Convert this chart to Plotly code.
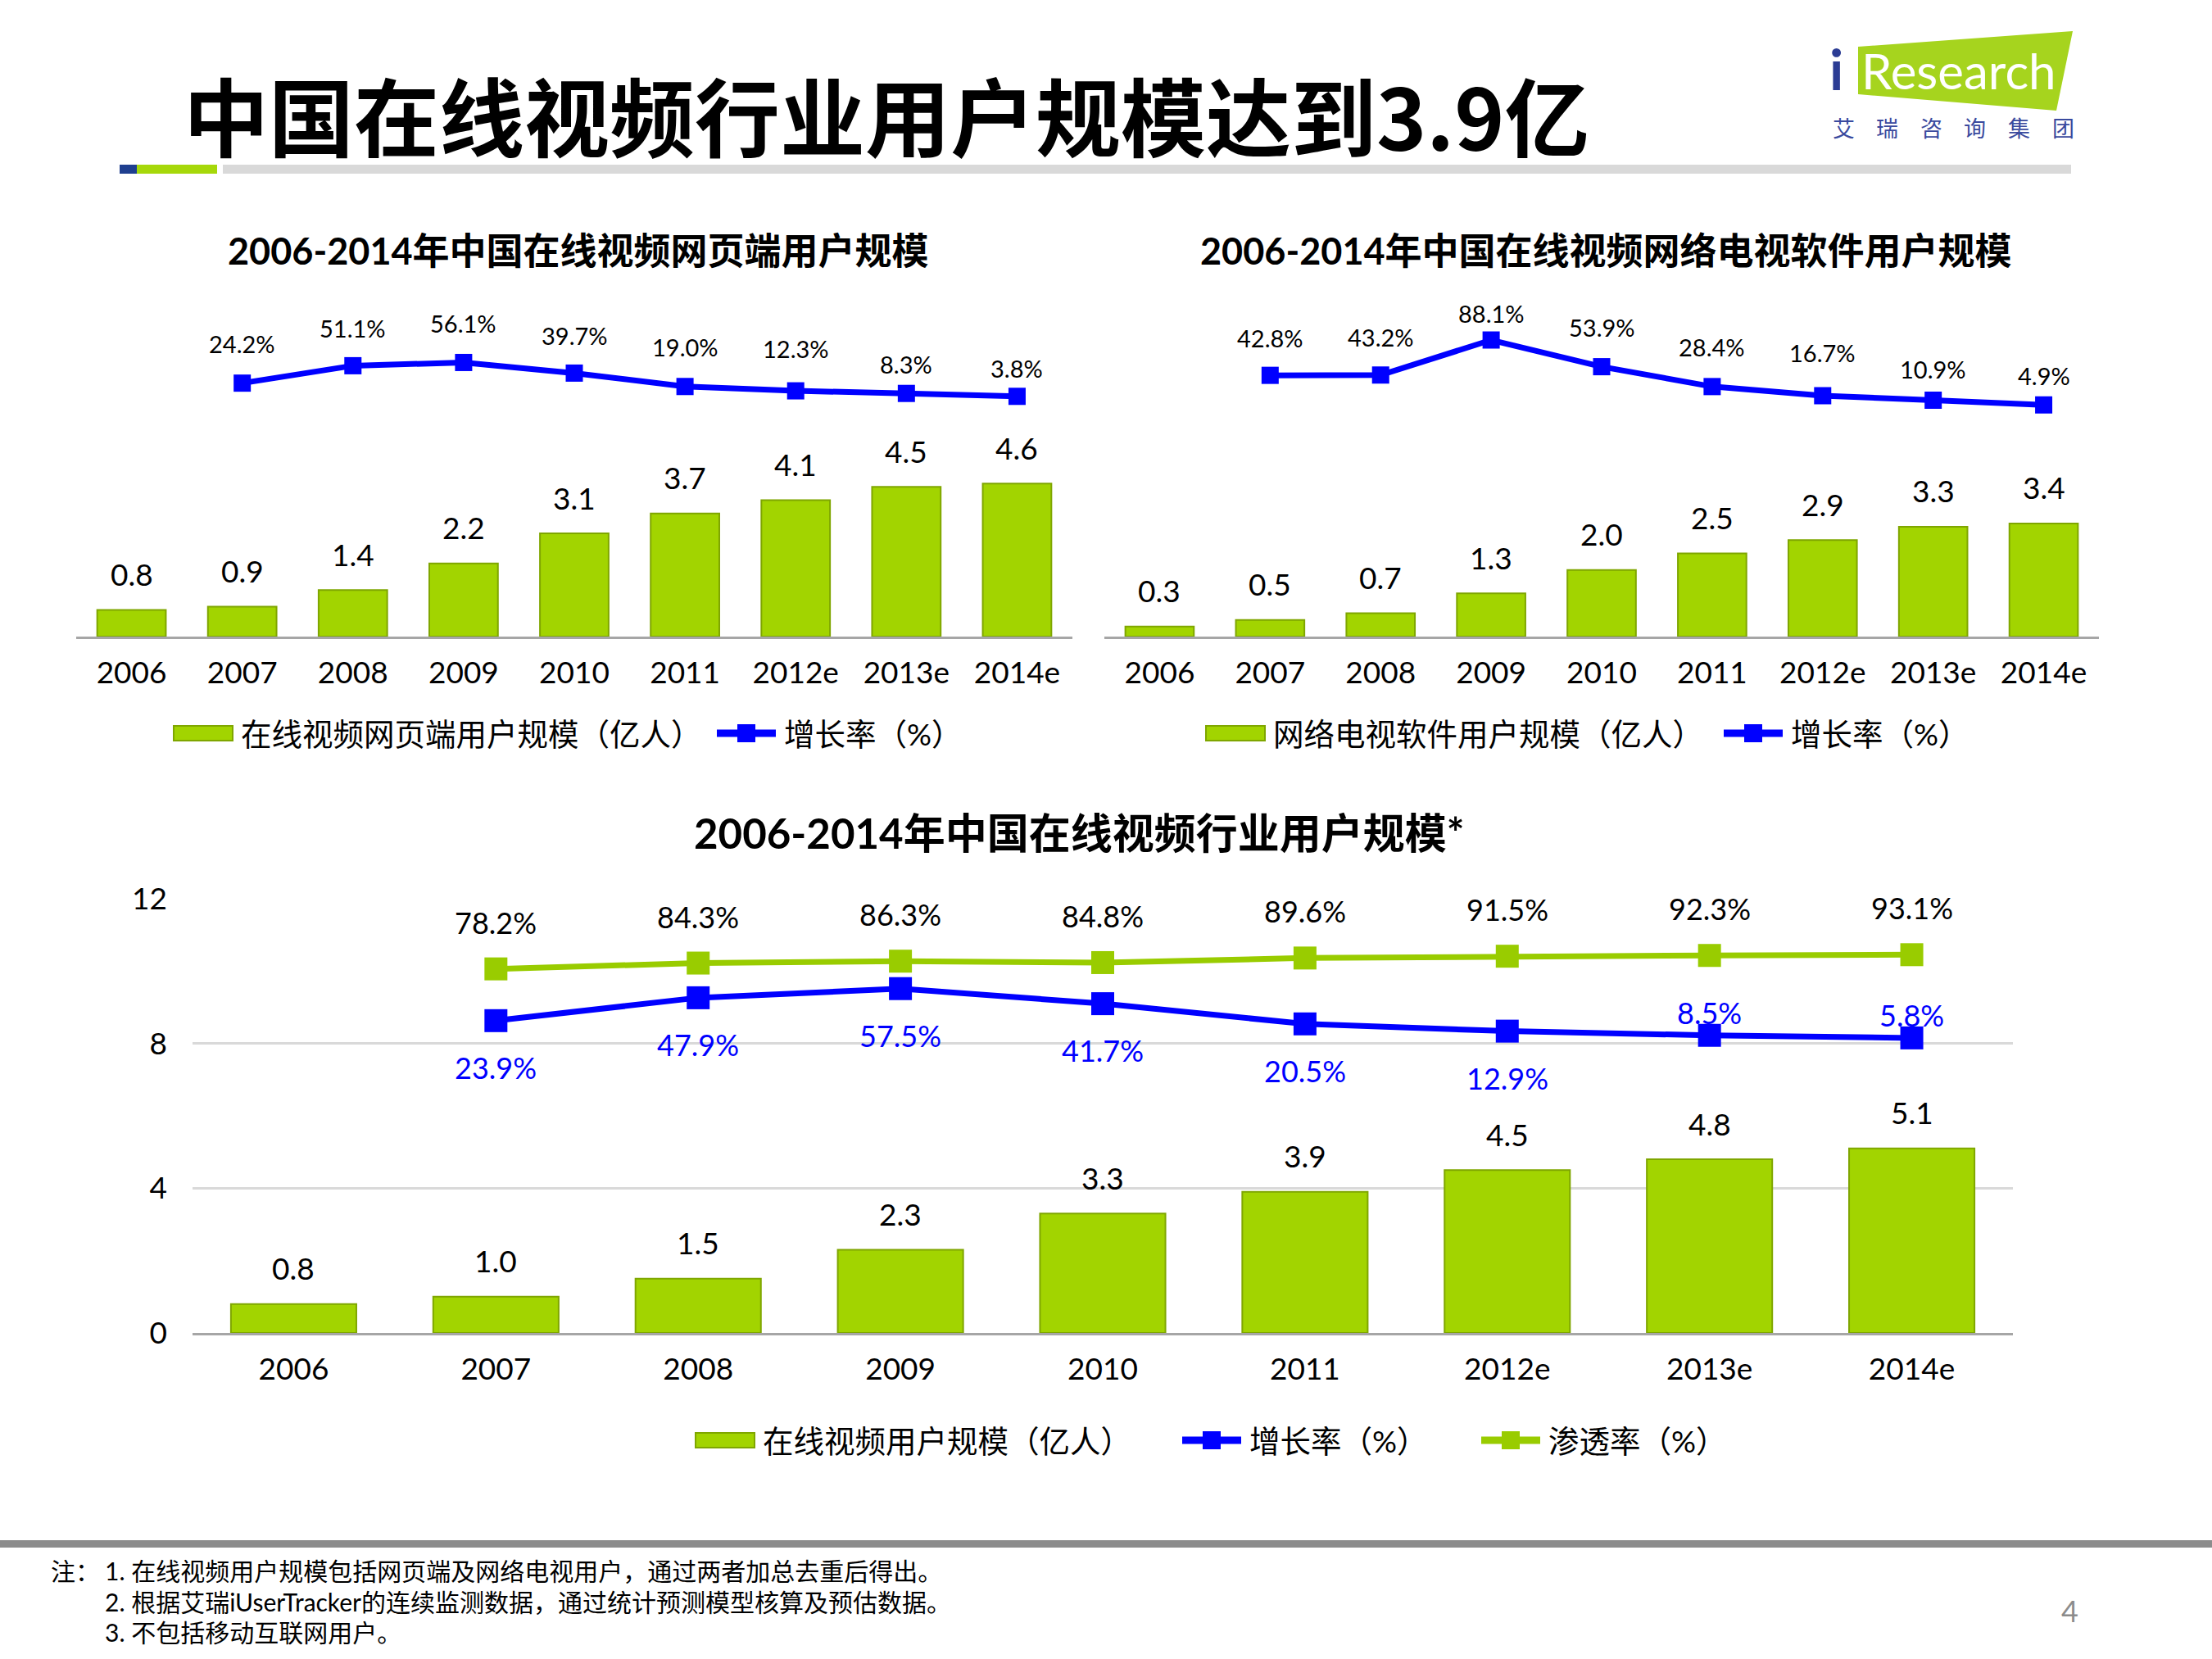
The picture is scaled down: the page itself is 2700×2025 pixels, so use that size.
import plotly.graph_objects as go

W, H = 2700, 2025
FONT = "Lato, 'Noto Sans CJK SC', sans-serif"
CJK = "'Noto Sans CJK SC', sans-serif"

# ---- data ----
years = ["2006", "2007", "2008", "2009", "2010", "2011", "2012e", "2013e", "2014e"]
web_users = [0.8, 0.9, 1.4, 2.2, 3.1, 3.7, 4.1, 4.5, 4.6]
web_growth = [24.2, 51.1, 56.1, 39.7, 19.0, 12.3, 8.3, 3.8]
tv_users = [0.3, 0.5, 0.7, 1.3, 2.0, 2.5, 2.9, 3.3, 3.4]
tv_growth = [42.8, 43.2, 88.1, 53.9, 28.4, 16.7, 10.9, 4.9]
total_users = [0.8, 1.0, 1.5, 2.3, 3.3, 3.9, 4.5, 4.8, 5.1]
total_growth = [23.9, 47.9, 57.5, 41.7, 20.5, 12.9, 8.5, 5.8]
penetration = [78.2, 84.3, 86.3, 84.8, 89.6, 91.5, 92.3, 93.1]

GREEN = "#A2D400"
GREEN_EDGE = "#7FA600"
GREEN_LINE = "#99CC00"
BLUE = "#0000FF"


def fx(px):
    return px / W


def fy(py):
    return 1 - py / H


def note(x, y, text, size, color="#000", xanchor="center", family=None, **kw):
    f = dict(size=size, color=color)
    if family:
        f["family"] = family
    return dict(x=x, y=y, text=text, showarrow=False, xanchor=xanchor, yanchor="middle",
                font=f, **kw)


fig = go.Figure()

# chart 1: web users
fig.add_trace(go.Bar(x=years, y=web_users, xaxis="x", yaxis="y", width=0.62,
                     marker=dict(color=GREEN, line=dict(color=GREEN_EDGE, width=2))))
fig.add_trace(go.Scatter(x=years[1:], y=web_growth, xaxis="x", yaxis="y2", mode="lines+markers",
                         line=dict(color=BLUE, width=7),
                         marker=dict(symbol="square", size=21, color=BLUE)))
# chart 2: TV software users
fig.add_trace(go.Bar(x=years, y=tv_users, xaxis="x2", yaxis="y3", width=0.62,
                     marker=dict(color=GREEN, line=dict(color=GREEN_EDGE, width=2))))
fig.add_trace(go.Scatter(x=years[1:], y=tv_growth, xaxis="x2", yaxis="y4", mode="lines+markers",
                         line=dict(color=BLUE, width=7),
                         marker=dict(symbol="square", size=21, color=BLUE)))
# chart 3: total users
fig.add_trace(go.Bar(x=years, y=total_users, xaxis="x3", yaxis="y5", width=0.62,
                     marker=dict(color=GREEN, line=dict(color=GREEN_EDGE, width=2))))
fig.add_trace(go.Scatter(x=years[1:], y=penetration, xaxis="x3", yaxis="y6", mode="lines+markers",
                         line=dict(color=GREEN_LINE, width=7),
                         marker=dict(symbol="square", size=28, color=GREEN_LINE)))
fig.add_trace(go.Scatter(x=years[1:], y=total_growth, xaxis="x3", yaxis="y6", mode="lines+markers",
                         line=dict(color=BLUE, width=7),
                         marker=dict(symbol="square", size=28, color=BLUE)))

ann = []

# bar value labels (x given as category index)
for xr, yr, vals in [("x", "y", web_users), ("x2", "y3", tv_users), ("x3", "y5", total_users)]:
    for i, v in enumerate(vals):
        ann.append(note(i, v, f"{v:.1f}", 37, xref=xr, yref=yr, yshift=44))

# growth labels on top charts
off1 = [48, 46, 48, 46, 48, 52, 36, 34]
off2 = [46, 46, 33, 48, 48, 53, 38, 36]
for xr, yr, vals, offs in [("x", "y2", web_growth, off1), ("x2", "y4", tv_growth, off2)]:
    for i, (v, o) in enumerate(zip(vals, offs)):
        ann.append(note(i + 1, v, f"{v:.1f}%", 29, xref=xr, yref=yr, yshift=o))

# bottom chart line labels
for i, v in enumerate(penetration):
    ann.append(note(i + 1, v, f"{v:.1f}%", 36, xref="x3", yref="y6", yshift=57))
for i, v in enumerate(total_growth):
    ann.append(note(i + 1, v, f"{v:.1f}%", 36, color=BLUE, xref="x3", yref="y6",
                    yshift=-57 if i < 6 else 28))

P = dict(xref="paper", yref="paper")
# titles
ann.append(note(fx(222), fy(138), "<b>中国在线视频行业用户规模达到3.9亿</b>", 104, xanchor="left",
                family=CJK, **P))
ann.append(note(fx(706), fy(306), "<b>2006-2014年中国在线视频网页端用户规模</b>", 45, **P))
ann.append(note(fx(1960), fy(306), "<b>2006-2014年中国在线视频网络电视软件用户规模</b>", 45, **P))
ann.append(note(fx(1317), fy(1016), "<b>2006-2014年中国在线视频行业用户规模*</b>", 51, **P))

shapes = []


def legend(items, yc):
    for kind, x0, label in items:
        if kind == "bar":
            shapes.append(dict(type="rect", xref="paper", yref="paper", x0=fx(x0), x1=fx(x0 + 72),
                               y0=fy(yc + 9), y1=fy(yc - 9), fillcolor=GREEN,
                               line=dict(color=GREEN_EDGE, width=2)))
        else:
            c = BLUE if kind == "blue" else GREEN_LINE
            shapes.append(dict(type="line", xref="paper", yref="paper", x0=fx(x0), x1=fx(x0 + 72),
                               y0=fy(yc), y1=fy(yc), line=dict(color=c, width=9)))
            shapes.append(dict(type="rect", xref="paper", yref="paper", x0=fx(x0 + 25), x1=fx(x0 + 47),
                               y0=fy(yc + 11), y1=fy(yc - 11), fillcolor=c, line=dict(width=0)))
        ann.append(note(fx(x0 + 80), fy(yc), label, 37.5, xanchor="left", **P))


legend([("bar", 212, "在线视频网页端用户规模（亿人）"), ("blue", 875, "增长率（%）")], 895)
legend([("bar", 1472, "网络电视软件用户规模（亿人）"), ("blue", 2104, "增长率（%）")], 895)
legend([("bar", 849, "在线视频用户规模（亿人）"), ("blue", 1443, "增长率（%）"),
        ("green", 1808, "渗透率（%）")], 1758)

# header decoration
shapes += [
    dict(type="rect", xref="paper", yref="paper", x0=fx(146), x1=fx(167), y0=fy(212), y1=fy(201),
         fillcolor="#1F3F8F", line=dict(width=0)),
    dict(type="rect", xref="paper", yref="paper", x0=fx(167), x1=fx(265), y0=fy(212), y1=fy(201),
         fillcolor="#A6D80A", line=dict(width=0)),
    dict(type="rect", xref="paper", yref="paper", x0=fx(272), x1=fx(2528), y0=fy(212), y1=fy(201),
         fillcolor="#D9D9D9", line=dict(width=0)),
    # logo parallelogram
    dict(type="path", xref="paper", yref="paper",
         path=f"M {fx(2268)},{fy(57)} L {fx(2530)},{fy(38)} L {fx(2510)},{fy(135)} L {fx(2268)},{fy(115)} Z",
         fillcolor="#A6D41E", line=dict(width=0)),
    # footer line
    dict(type="rect", xref="paper", yref="paper", x0=0, x1=1, y0=fy(1889), y1=fy(1880),
         fillcolor="#8C8C8C", line=dict(width=0)),
]

ann.append(note(fx(2241), fy(84), "<b>i</b>", 68, color="#2B3C94", family="Lato", **P))
ann.append(note(fx(2270), fy(86), "Research", 60, color="#FFFFFF", xanchor="left", family="Lato", **P))
for i, ch in enumerate("艾瑞咨询集团"):
    ann.append(note(fx(2250 + i * 53.6), fy(156), ch, 27, color="#3A4A9E", family=CJK, **P))

# footnotes
ann.append(note(fx(60), fy(1917), "注：", 30, xanchor="left", **P))
notes = ["1. 在线视频用户规模包括网页端及网络电视用户，通过两者加总去重后得出。",
         "2. 根据艾瑞iUserTracker的连续监测数据，通过统计预测模型核算及预估数据。",
         "3. 不包括移动互联网用户。"]
for i, t in enumerate(notes):
    ann.append(note(fx(126), fy(1917 + i * 37.5), t, 30, xanchor="left", **P))
ann.append(note(fx(2526), fy(1966), "4", 36, color="#8C8C8C", **P))

xcommon = dict(type="category", range=[-0.5, 8.5], showgrid=False, zeroline=False, showline=True,
               linecolor="#A6A6A6", linewidth=3, ticks="", ticklabelstandoff=10, automargin=False,
               tickfont=dict(size=37, color="#000"), fixedrange=True)
yhidden = dict(showgrid=False, zeroline=False, showticklabels=False, showline=False, automargin=False)

fig.update_layout(
    template="none",
    width=W, height=H, margin=dict(l=0, r=0, t=0, b=0, pad=0, autoexpand=False),
    paper_bgcolor="white", plot_bgcolor="rgba(0,0,0,0)",
    font=dict(family=FONT, color="#000"), showlegend=False,
    xaxis=dict(domain=[fx(93), fx(1309)], anchor="y", **xcommon),
    yaxis=dict(domain=[fy(777), fy(344)], anchor="x", range=[0, 10.66], **yhidden),
    yaxis2=dict(overlaying="y", anchor="x", range=[-367.3, 180.7], **yhidden),
    xaxis2=dict(domain=[fx(1348), fx(2562)], anchor="y3", **xcommon),
    yaxis3=dict(domain=[fy(777), fy(344)], anchor="x2", range=[0, 10.66], **yhidden),
    yaxis4=dict(overlaying="y3", anchor="x2", range=[-292.1, 162.7], **yhidden),
    xaxis3=dict(domain=[fx(235), fx(2457)], anchor="y5", **xcommon),
    yaxis5=dict(domain=[fy(1627), fy(1097)], anchor="x3", range=[0, 12], dtick=4, tick0=0,
                showgrid=True, gridcolor="#D9D9D9", gridwidth=3, zeroline=False, showline=False,
                ticks="", automargin=False, ticklabelstandoff=30, tickfont=dict(size=37, color="#000")),
    yaxis6=dict(overlaying="y5", anchor="x3", range=[-303.7, 151.8], **yhidden),
    annotations=ann, shapes=shapes,
)

fig.write_html("out.html", config={"displayModeBar": False},
               post_script="document.body.style.margin='0';")
